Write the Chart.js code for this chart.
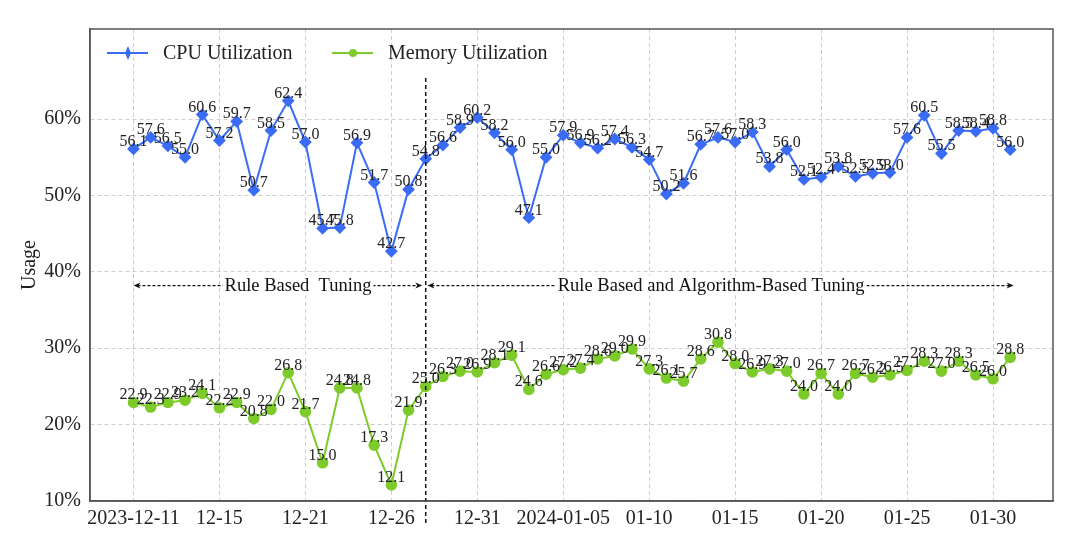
<!DOCTYPE html>
<html>
<head>
<meta charset="utf-8">
<script src="https://cdn.jsdelivr.net/npm/chart.js@4.4.1/dist/chart.umd.min.js"></script>
<style>
  html, body { margin: 0; padding: 0; background: #fff; }
  #wrap { width: 1092px; height: 548px; }
</style>
</head>
<body>
<div id="wrap"><canvas id="usage-chart" width="1092" height="548"></canvas></div>
<script>
// one point per day (index), tick label every 5th point
const tickLabels = ['2023-12-11', '12-15', '12-21', '12-26', '12-31', '2024-01-05',
    '01-10', '01-15', '01-20', '01-25', '01-30'];
const cpuValues = [56.1, 57.6, 56.5, 55.0, 60.6, 57.2, 59.7, 50.7, 58.5, 62.4,
    57.0, 45.7, 45.8, 56.9, 51.7, 42.7, 50.8, 54.8, 56.6, 58.9,
    60.2, 58.2, 56.0, 47.1, 55.0, 57.9, 56.9, 56.2, 57.4, 56.3,
    54.7, 50.2, 51.6, 56.7, 57.6, 57.0, 58.3, 53.8, 56.0, 52.1,
    52.4, 53.8, 52.5, 52.9, 53.0, 57.6, 60.5, 55.5, 58.5, 58.4,
    58.8, 56.0];
const memValues = [22.9, 22.3, 22.9, 23.2, 24.1, 22.2, 22.9, 20.8, 22.0, 26.8,
    21.7, 15.0, 24.8, 24.8, 17.3, 12.1, 21.9, 25.0, 26.3, 27.0,
    26.9, 28.1, 29.1, 24.6, 26.6, 27.2, 27.4, 28.6, 29.0, 29.9,
    27.3, 26.1, 25.7, 28.6, 30.8, 28.0, 26.9, 27.3, 27.0, 24.0,
    26.7, 24.0, 26.7, 26.2, 26.5, 27.1, 28.3, 27.0, 28.3, 26.5,
    26.0, 28.8];
const yTicks = [10, 20, 30, 40, 50, 60];
const phaseSplit = 17; // index where the algorithm-based tuning starts

const SERIF = '"Liberation Serif", "DejaVu Serif", serif';
const CPU_COLOR = '#3a6cf6';
const MEM_COLOR = '#7ccb2a';

const toPoints = arr => arr.map((v, i) => ({ x: i, y: v }));

// value labels, legend, frame, phase markers
const extrasPlugin = {
    id: 'extras',
    afterDatasetsDraw(chart) {
        const ctx = chart.ctx;
        const xs = chart.scales.x;
        const ys = chart.scales.y;
        const area = chart.chartArea;

        // value labels
        ctx.save();
        ctx.font = '16px ' + SERIF;
        ctx.fillStyle = '#222';
        ctx.textAlign = 'center';
        ctx.textBaseline = 'alphabetic';
        chart.data.datasets.forEach((ds, di) => {
            chart.getDatasetMeta(di).data.forEach((pt, i) => {
                ctx.fillText(ds.data[i].y.toFixed(1), pt.x, pt.y - 3);
            });
        });
        ctx.restore();

        // vertical phase divider
        const sx = xs.getPixelForValue(phaseSplit);
        ctx.save();
        ctx.strokeStyle = '#111';
        ctx.lineWidth = 1.5;
        ctx.setLineDash([4, 3]);
        ctx.beginPath();
        ctx.moveTo(sx, ys.getPixelForValue(65.4));
        ctx.lineTo(sx, area.bottom + 22);
        ctx.stroke();
        ctx.restore();

        // phase arrows
        const ay = ys.getPixelForValue(38.2);
        drawArrow(ctx, xs.getPixelForValue(0), xs.getPixelForValue(phaseSplit - 0.2), ay,
            xs.getPixelForValue(9.57), 'Rule Based  Tuning');
        drawArrow(ctx, xs.getPixelForValue(phaseSplit + 0.1), xs.getPixelForValue(51.2), ay,
            xs.getPixelForValue(33.6), 'Rule Based and Algorithm-Based Tuning');

        // legend inside plot
        drawLegend(ctx, area.left + 17, area.top + 24);

        // frame
        ctx.save();
        ctx.strokeStyle = '#555';
        ctx.lineWidth = 1.5;
        ctx.strokeRect(area.left, area.top, area.right - area.left, area.bottom - area.top);
        ctx.restore();
    }
};

function drawArrow(ctx, x1, x2, y, cx, text) {
    ctx.save();
    ctx.strokeStyle = '#111';
    ctx.fillStyle = '#111';
    ctx.lineWidth = 1.2;
    ctx.setLineDash([3, 2]);
    ctx.beginPath();
    ctx.moveTo(x1 + 4, y);
    ctx.lineTo(x2 - 4, y);
    ctx.stroke();
    ctx.setLineDash([]);
    [[x1, 1], [x2, -1]].forEach(([x, d]) => {
        ctx.beginPath();
        ctx.moveTo(x, y);
        ctx.lineTo(x + d * 7, y - 3);
        ctx.lineTo(x + d * 5, y);
        ctx.lineTo(x + d * 7, y + 3);
        ctx.closePath();
        ctx.fill();
    });
    ctx.font = '18.5px ' + SERIF;
    const w = ctx.measureText(text).width;
    ctx.fillStyle = '#fff';
    ctx.fillRect(cx - w / 2 - 2, y - 10, w + 4, 20);
    ctx.fillStyle = '#111';
    ctx.textAlign = 'center';
    ctx.textBaseline = 'middle';
    ctx.fillText(text, cx, y + 1);
    ctx.restore();
}

function drawLegend(ctx, x, y) {
    ctx.save();
    ctx.font = '20px ' + SERIF;
    ctx.textBaseline = 'middle';
    ctx.lineWidth = 2;
    // CPU
    ctx.strokeStyle = CPU_COLOR;
    ctx.fillStyle = CPU_COLOR;
    ctx.beginPath();
    ctx.moveTo(x, y);
    ctx.lineTo(x + 41, y);
    ctx.stroke();
    ctx.beginPath();
    ctx.moveTo(x + 21, y - 7);
    ctx.lineTo(x + 24, y);
    ctx.lineTo(x + 21, y + 7);
    ctx.lineTo(x + 18, y);
    ctx.closePath();
    ctx.fill();
    ctx.fillStyle = '#222';
    ctx.fillText('CPU Utilization', x + 56, y + 1);
    // Memory
    const mx = x + 225;
    ctx.strokeStyle = MEM_COLOR;
    ctx.fillStyle = MEM_COLOR;
    ctx.beginPath();
    ctx.moveTo(mx, y);
    ctx.lineTo(mx + 41, y);
    ctx.stroke();
    ctx.beginPath();
    ctx.arc(mx + 21, y, 4, 0, Math.PI * 2);
    ctx.fill();
    ctx.fillStyle = '#222';
    ctx.fillText('Memory Utilization', mx + 56, y + 1);
    ctx.restore();
}

const usageChart = new Chart(document.getElementById('usage-chart'), {
    type: 'line',
    data: {
        datasets: [{
            label: 'CPU Utilization',
            data: toPoints(cpuValues),
            borderColor: CPU_COLOR,
            backgroundColor: CPU_COLOR,
            borderWidth: 2,
            pointStyle: 'rectRot',
            pointRadius: 5,
            pointHoverRadius: 5,
            tension: 0
        }, {
            label: 'Memory Utilization',
            data: toPoints(memValues),
            borderColor: MEM_COLOR,
            backgroundColor: MEM_COLOR,
            borderWidth: 2,
            pointStyle: 'circle',
            pointRadius: 4.8,
            pointHoverRadius: 4.8,
            tension: 0
        }]
    },
    options: {
        responsive: false,
        animation: false,
        layout: { padding: { top: 29, right: 39, left: 18, bottom: 0 } },
        plugins: {
            legend: { display: false },
            tooltip: { enabled: false }
        },
        scales: {
            x: {
                type: 'linear',
                min: -2.53,
                max: 53.49,
                afterBuildTicks: scale => {
                    scale.ticks = tickLabels.map((t, i) => ({ value: i * 5 }));
                },
                afterFit: scale => { scale.height = 47; },
                ticks: {
                    autoSkip: false,
                    maxRotation: 0,
                    padding: 6,
                    color: '#222',
                    font: { family: SERIF, size: 20 },
                    callback: v => tickLabels[v / 5]
                },
                grid: { color: '#cdcdcd', lineWidth: 1, drawTicks: false },
                border: { display: true, color: '#555', width: 1.5, dash: [4, 3] }
            },
            y: {
                min: 10,
                max: 71.8,
                afterBuildTicks: scale => {
                    scale.ticks = yTicks.map(v => ({ value: v }));
                },
                afterFit: scale => { scale.width = 72; },
                ticks: {
                    padding: 9,
                    color: '#222',
                    font: { family: SERIF, size: 20 },
                    callback: v => v + '%'
                },
                title: {
                    display: true,
                    text: 'Usage',
                    color: '#222',
                    font: { family: SERIF, size: 20 },
                    padding: { top: 0, bottom: 4 }
                },
                grid: { color: '#cdcdcd', lineWidth: 1, drawTicks: false },
                border: { display: true, color: '#555', width: 1.5, dash: [4, 3] }
            }
        }
    },
    plugins: [extrasPlugin]
});
</script>
</body>
</html>
